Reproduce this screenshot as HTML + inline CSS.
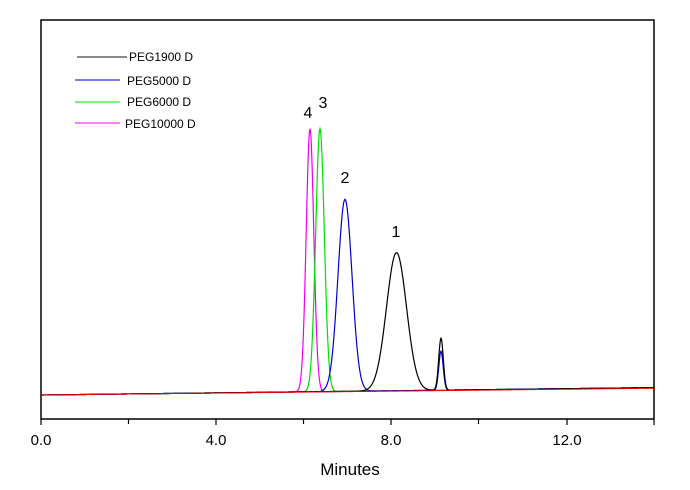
<!DOCTYPE html>
<html><head><meta charset="utf-8"><style>
body{margin:0;background:#fff;}
svg{display:block;font-family:"Liberation Sans",Arial,sans-serif;}
</style></head><body>
<svg id="s" width="690" height="490" xmlns="http://www.w3.org/2000/svg">
<rect x="41" y="20" width="613" height="399" fill="none" stroke="#000" stroke-width="1.5"/>
<g stroke="#000" stroke-width="1.2">
<line x1="41" y1="419" x2="41" y2="425"/><line x1="128.5" y1="419" x2="128.5" y2="424"/>
<line x1="216" y1="419" x2="216" y2="425"/><line x1="303.5" y1="419" x2="303.5" y2="424"/>
<line x1="391" y1="419" x2="391" y2="425"/><line x1="478.5" y1="419" x2="478.5" y2="424"/>
<line x1="567" y1="419" x2="567" y2="425"/><line x1="654" y1="419" x2="654" y2="425"/>
</g>
<g font-size="15" text-anchor="middle" fill="#000">
<text x="41" y="445">0.0</text><text x="216" y="445">4.0</text>
<text x="391" y="445">8.0</text><text x="567" y="445">12.0</text>
<text x="350" y="475" font-size="17">Minutes</text>
</g>
<g font-size="12" fill="#000">
<line x1="77" y1="57" x2="127" y2="57" stroke="#444" stroke-width="1.2"/><text x="129" y="61">PEG1900 D</text>
<line x1="75" y1="80" x2="120" y2="80" stroke="#00c"/><text x="127" y="85">PEG5000 D</text>
<line x1="75" y1="102" x2="120" y2="102" stroke="#0d0"/><text x="127" y="106">PEG6000 D</text>
<line x1="75" y1="123" x2="120" y2="123" stroke="#e0e"/><text x="125" y="128">PEG10000 D</text>
</g>
<g font-size="16" text-anchor="middle" fill="#000">
<text x="308" y="118">4</text><text x="323" y="108">3</text>
<text x="345" y="183">2</text><text x="396" y="237">1</text>
</g>
<g id="c" fill="none" stroke-width="1.2"></g>
</svg>
<script>
function g(x,m,s,h){return h*Math.exp(-(x-m)*(x-m)/(2*s*s));}
var series=[
 ["#e0e",[[310,3.8,263]]],
 ["#0d0",[[320,4.3,263]]],
 ["#00c",[[345,7,192],[441,2.2,39]]],
 ["#000",[[396.5,10,138],[441,2.3,52]]],
 ["#e00",[]]
];
var c=document.getElementById('c');
series.forEach(function(sr){
 var d="";
 for(var x=41;x<=654;x+=0.5){
  var base=395-(x-41)*0.012;
  if(sr[0]=="#e00") base=395-(x-41)*0.011;
  var y=base;
  sr[1].forEach(function(p){y-=g(x,p[0],p[1],p[2]);});
  d+=(x==41?"M":"L")+x+","+y.toFixed(2);
 }
 var p=document.createElementNS("http://www.w3.org/2000/svg","path");
 p.setAttribute("d",d);p.setAttribute("stroke",sr[0]);
 if(sr[0]=="#e00")p.setAttribute("stroke-width","1");
 c.appendChild(p);
});
</script>
</body></html>
